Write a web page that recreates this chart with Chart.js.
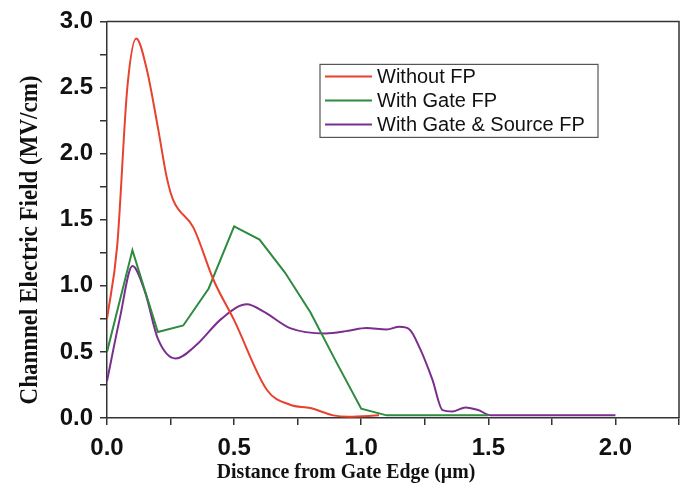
<!DOCTYPE html>
<html>
<head>
<meta charset="utf-8">
<script src="https://cdn.jsdelivr.net/npm/chart.js@4/dist/chart.umd.min.js"></script>
<style>
  html, body { margin: 0; padding: 0; background: #fff; }
  #wrap { width: 691px; height: 491px; }
</style>
</head>
<body>
<div id="wrap"><canvas id="chart" width="691" height="491"></canvas></div>
<script>
// series: [distance (um), field (MV/cm)]
const withoutFP = [
    [0, 0.75], [0.04, 1.3], [0.08, 2.5], [0.115, 2.87], [0.155, 2.65], [0.2, 2.2],
    [0.235, 1.82], [0.26, 1.65], [0.34, 1.44], [0.42, 1.04], [0.5, 0.74], [0.63, 0.21],
    [0.72, 0.1], [0.8, 0.075], [0.89, 0.02], [0.95, 0.01], [1.07, 0.02]
];
const withGateFP = [
    [0, 0.5], [0.1, 1.27], [0.2, 0.65], [0.3, 0.7], [0.4, 0.98], [0.5, 1.45],
    [0.6, 1.35], [0.7, 1.1], [0.8, 0.8], [0.9, 0.43], [1.0, 0.07], [1.1, 0.02], [1.5, 0.02]
];
const withGateSourceFP = [
    [0, 0.28], [0.05, 0.75], [0.1, 1.15], [0.15, 0.95], [0.2, 0.6], [0.27, 0.45],
    [0.35, 0.55], [0.45, 0.75], [0.55, 0.86], [0.62, 0.8], [0.72, 0.68], [0.86, 0.64],
    [0.95, 0.66], [1.02, 0.68], [1.1, 0.67], [1.15, 0.69], [1.19, 0.67], [1.23, 0.53],
    [1.28, 0.29], [1.32, 0.06], [1.36, 0.05], [1.41, 0.08], [1.46, 0.06], [1.51, 0.02], [2.0, 0.02]
];
const seriesLabels = ['Without FP', 'With Gate FP', 'With Gate & Source FP'];
const seriesColors = ['#e8412e', '#2e8a3e', '#7a2e8e'];
const xTicks = [0, 0.5, 1.0, 1.5, 2.0];
const yTicks = [0, 0.5, 1.0, 1.5, 2.0, 2.5, 3.0];
const xTitle = 'Distance from Gate Edge (µm)';
const yTitle = 'Channnel Electric Field (MV/cm)';

const toPts = arr => arr.map(p => ({ x: p[0], y: p[1] }));
const isMajor = (v, list) => list.some(t => Math.abs(t - v) < 1e-6);

const axisColor = '#333';
const tickFont = { family: "'Liberation Sans', Arial, sans-serif", size: 24, weight: 'bold' };

// frame on top/right, axis titles and a boxed legend inside the plot
const framePlugin = {
    id: 'frame',
    afterDraw(chart) {
        const { ctx, chartArea: a } = chart;
        ctx.save();
        ctx.strokeStyle = axisColor;
        ctx.lineWidth = 1.5;
        ctx.beginPath();
        ctx.moveTo(a.left, a.top);
        ctx.lineTo(a.right, a.top);
        ctx.lineTo(a.right, a.bottom);
        ctx.stroke();

        // axis titles (the original sits them off-centre, a bit condensed)
        ctx.fillStyle = '#111';
        ctx.textAlign = 'center';
        ctx.textBaseline = 'alphabetic';
        ctx.save();
        ctx.translate(346, 478);
        ctx.scale(0.9, 1);
        ctx.font = "bold 22px 'Liberation Serif', 'Times New Roman', serif";
        ctx.fillText(xTitle, 0, 0);
        ctx.restore();
        ctx.save();
        ctx.translate(37, 240);
        ctx.rotate(-Math.PI / 2);
        ctx.scale(0.92, 1);
        ctx.font = "bold 25px 'Liberation Serif', 'Times New Roman', serif";
        ctx.fillText(yTitle, 0, 0);
        ctx.restore();

        // legend
        const lx = a.left + 213, ly = a.top + 43, w = 278, h = 73;
        ctx.textAlign = 'left';
        ctx.textBaseline = 'middle';
        ctx.fillStyle = '#fff';
        ctx.fillRect(lx, ly, w, h);
        ctx.strokeStyle = '#555';
        ctx.lineWidth = 1.2;
        ctx.strokeRect(lx, ly, w, h);
        ctx.font = "20px 'Liberation Sans', Arial, sans-serif";
        chart.data.datasets.forEach((ds, i) => {
            const y = ly + 12 + i * 24;
            ctx.strokeStyle = ds.borderColor;
            ctx.lineWidth = 2;
            ctx.beginPath();
            ctx.moveTo(lx + 5, y);
            ctx.lineTo(lx + 52, y);
            ctx.stroke();
            ctx.fillStyle = '#111';
            ctx.fillText(ds.label, lx + 57, y + 1);
        });
        ctx.restore();
    }
};

const ctx = document.getElementById('chart').getContext('2d');
new Chart(ctx, {
    type: 'line',
    data: {
        datasets: [withoutFP, withGateFP, withGateSourceFP].map((d, i) => ({
            label: seriesLabels[i],
            data: toPts(d),
            borderColor: seriesColors[i],
            backgroundColor: seriesColors[i],
            borderWidth: 2,
            pointRadius: 0,
            fill: false,
            tension: i === 1 ? 0 : 0.4,
            cubicInterpolationMode: i === 1 ? 'default' : 'monotone'
        }))
    },
    options: {
        responsive: false,
        animation: false,
        layout: { padding: { top: 19, right: 12, left: 0, bottom: 0 } },
        plugins: {
            legend: { display: false },
            tooltip: { enabled: false }
        },
        scales: {
            x: {
                type: 'linear',
                min: 0,
                max: 2.25,
                afterFit: s => { s.height = 73; },
                border: { color: axisColor, width: 1.5 },
                grid: { drawOnChartArea: false, drawTicks: true, tickLength: 7, color: axisColor, lineWidth: 1.5 },
                ticks: {
                    stepSize: 0.25,
                    autoSkip: false,
                    maxRotation: 0,
                    padding: 9,
                    color: '#111',
                    font: tickFont,
                    callback: v => isMajor(v, xTicks) ? v.toFixed(1) : ''
                }
            },
            y: {
                min: 0,
                max: 3,
                afterFit: s => { s.width = 107; },
                border: { color: axisColor, width: 1.5 },
                grid: { drawOnChartArea: false, drawTicks: true, tickLength: 7, color: axisColor, lineWidth: 1.5 },
                ticks: {
                    stepSize: 0.25,
                    autoSkip: false,
                    padding: 7,
                    color: '#111',
                    font: tickFont,
                    callback: v => isMajor(v, yTicks) ? v.toFixed(1) : ''
                }
            }
        }
    },
    plugins: [framePlugin]
});
</script>
</body>
</html>
